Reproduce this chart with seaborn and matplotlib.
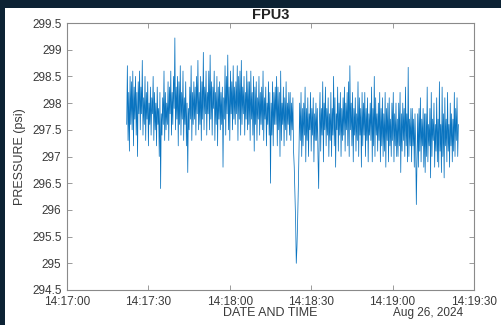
import numpy as np
import pandas as pd
import matplotlib
matplotlib.use("Agg")
import matplotlib.pyplot as plt
import matplotlib.dates as mdates
from matplotlib.patches import Rectangle
import seaborn as sns

# ---- data ----
start_time = "2024-08-26 14:17:22"
step_seconds = 0.25
pressure = [
    297.6, 298.7, 297.3, 298.2, 297.1, 298.5, 297.6, 298.4, 297.5, 298.6, 297.2, 298.3, 297.7, 298.5, 297.4, 298.2, 297.0, 298.4, 297.8, 298.6,
    297.5, 298.3, 297.8, 298.8, 297.4, 298.1, 297.6, 298.5, 297.3, 298.2, 297.7, 298.4, 297.2, 298.0, 297.6, 298.3, 297.4, 298.1, 297.8, 298.5,
    297.3, 298.2, 297.5, 298.0, 297.2, 298.3, 297.6, 297.9, 297.0, 298.2, 296.4, 297.8, 297.4, 298.1, 297.6, 298.6, 297.3, 298.2, 297.5, 298.0,
    297.6, 298.4, 297.3, 298.3, 297.8, 298.6, 297.4, 298.2, 297.6, 298.5, 297.9, 299.22, 297.5, 298.3, 297.7, 298.5, 297.2, 298.4, 297.6, 298.7,
    297.4, 298.2, 297.7, 298.6, 297.3, 298.1, 297.6, 298.4, 297.2, 298.0, 296.7, 297.9, 297.5, 298.3, 297.7, 298.7, 297.3, 298.2, 297.6, 298.4,
    297.7, 298.3, 297.4, 298.5, 297.8, 298.8, 297.5, 298.2, 297.6, 298.5, 297.3, 298.4, 297.7, 298.95, 297.5, 298.3, 297.8, 298.6, 297.4, 298.2,
    297.8, 298.6, 297.5, 298.9, 297.7, 298.4, 297.4, 298.3, 297.9, 298.6, 297.3, 298.2, 297.6, 298.5, 297.2, 298.3, 297.7, 298.4, 297.5, 298.2,
    297.6, 298.3, 296.8, 298.1, 297.7, 298.7, 297.4, 298.5, 297.8, 298.9, 297.5, 298.3, 297.3, 298.6, 297.8, 298.4, 297.5, 298.7, 297.7, 298.3,
    297.6, 298.4, 297.8, 298.7, 297.3, 298.5, 297.7, 298.6, 297.4, 298.8, 297.6, 298.3, 297.8, 298.5, 297.4, 298.2, 297.7, 298.6, 297.5, 298.4,
    297.6, 298.4, 297.3, 298.6, 297.7, 298.2, 297.4, 298.5, 297.1, 298.3, 297.6, 298.4, 297.3, 298.1, 297.7, 298.5, 297.4, 298.2, 297.6, 298.3,
    297.5, 298.6, 297.3, 298.1, 297.7, 298.3, 297.2, 298.0, 297.6, 298.4, 297.4, 298.2, 296.5, 298.0, 297.4, 298.4, 297.2, 298.2, 297.6, 298.3,
    297.6, 298.5, 297.2, 298.3, 297.5, 298.2, 297.0, 298.6, 297.3, 298.0, 297.6, 298.3, 297.2, 298.1, 297.5, 298.4, 297.3, 298.0, 297.6, 298.2,
    297.4, 298.2, 297.3, 298.0, 297.5, 298.1, 297.1, 296.8, 296.3, 295.8, 295.0, 295.3, 295.8, 296.4, 297.1, 298.0, 297.3, 298.2, 297.0, 297.9,
    297.2, 298.0, 297.4, 298.3, 296.9, 297.9, 297.3, 298.1, 297.0, 297.8, 297.5, 298.2, 297.1, 297.9, 297.4, 298.1, 296.9, 297.8, 297.3, 298.0,
    297.3, 297.9, 297.0, 296.4, 297.6, 298.2, 297.1, 297.9, 297.4, 298.4, 296.9, 298.0, 297.5, 298.3, 297.2, 297.9, 297.4, 298.1, 297.0, 297.8,
    297.3, 298.2, 297.0, 297.9, 297.4, 298.5, 297.2, 298.1, 296.8, 297.8, 297.5, 298.3, 297.1, 298.0, 297.4, 298.2, 297.0, 297.9, 297.3, 298.1,
    297.4, 298.3, 297.1, 298.0, 297.5, 298.2, 297.2, 298.4, 297.0, 298.7, 297.5, 298.0, 297.2, 298.2, 296.9, 297.9, 297.4, 298.1, 297.1, 297.8,
    297.3, 298.4, 297.0, 298.1, 297.4, 297.9, 296.8, 298.2, 297.2, 298.0, 297.4, 298.2, 297.0, 297.9, 297.3, 298.1, 296.9, 297.8, 297.4, 298.0,
    297.3, 298.3, 296.9, 297.9, 297.2, 298.5, 297.0, 298.1, 297.4, 297.8, 297.1, 298.0, 297.3, 298.2, 296.9, 297.9, 297.2, 298.1, 297.0, 297.8,
    297.1, 298.2, 296.8, 297.9, 297.3, 298.0, 296.9, 298.1, 297.2, 297.7, 297.0, 298.0, 297.3, 298.2, 296.9, 297.8, 297.2, 298.0, 297.0, 297.7,
    297.0, 298.0, 297.2, 298.2, 296.7, 297.8, 297.1, 298.0, 297.3, 297.9, 297.0, 298.3, 297.2, 297.8, 296.9, 298.67, 297.0, 297.7, 297.2, 297.9,
    296.9, 297.9, 297.2, 297.7, 296.8, 297.8, 297.2, 296.1, 297.0, 297.8, 296.8, 297.9, 297.1, 298.1, 296.9, 297.7, 297.2, 297.9, 296.8, 297.8,
    296.7, 297.8, 297.0, 298.3, 296.9, 297.6, 297.2, 297.9, 296.6, 298.2, 297.0, 297.7, 297.3, 298.0, 296.8, 297.6, 297.1, 298.1, 296.9, 297.7,
    296.8, 298.4, 297.1, 297.6, 296.7, 298.3, 297.0, 297.8, 296.6, 298.1, 297.2, 297.7, 296.9, 298.2, 297.1, 297.6, 296.8, 298.0, 297.2, 297.8,
    296.9, 297.7, 297.1, 298.2, 297.0, 297.9, 297.3, 298.1, 297.0, 297.6,
]
x_ticks = ["14:17:00", "14:17:30", "14:18:00", "14:18:30", "14:19:00", "14:19:30"]
y_ticks = [294.5, 295, 295.5, 296, 296.5, 297, 297.5, 298, 298.5, 299, 299.5]
title = "FPU3"
x_label = "DATE AND TIME"
y_label = "PRESSURE (psi)"
date_label = "Aug 26, 2024"

times = pd.date_range(start=start_time, periods=len(pressure),
                      freq=pd.Timedelta(seconds=step_seconds))
df = pd.DataFrame({"time": times, "pressure": pressure})

# ---- style ----
sns.set_style("ticks")
plt.rcParams["font.family"] = ["Liberation Sans", "DejaVu Sans"]

W, H = 502, 325
fig = plt.figure(figsize=(W / 100, H / 100), dpi=100)
fig.patch.set_facecolor("#0c2234")
bg = Rectangle((5 / W, 0), 1, 1 - 8 / H, transform=fig.transFigure,
               facecolor="white", edgecolor="none", zorder=-10)
fig.patches.append(bg)

ax = fig.add_axes([67 / W, 1 - 290 / H, (474 - 67) / W, (290 - 23) / H])
ax.set_zorder(5)
ax.set_facecolor("white")

sns.lineplot(data=df, x="time", y="pressure", ax=ax, color="#0a74c0",
             linewidth=0.55, estimator=None)

day = "2024-08-26 "
ax.set_xlim(pd.Timestamp(day + x_ticks[0]), pd.Timestamp(day + x_ticks[-1]))
ax.set_xticks([pd.Timestamp(day + t) for t in x_ticks])
ax.xaxis.set_major_formatter(mdates.DateFormatter("%H:%M:%S"))
ax.set_ylim(y_ticks[0], y_ticks[-1])
ax.set_yticks(y_ticks)
ax.set_yticklabels([f"{v:g}" for v in y_ticks])

for s in ax.spines.values():
    s.set_visible(True)
    s.set_color("#8a8a8a")
    s.set_linewidth(0.8)
ax.tick_params(direction="in", length=3.5, width=0.6, color="#8a8a8a",
               labelsize=8.5, labelcolor="#3a3a3a", top=True, right=True,
               labeltop=False, labelright=False)
ax.tick_params(axis="x", pad=4)
ax.tick_params(axis="y", pad=4)

ax.set_xlabel("")
ax.set_ylabel(y_label, fontsize=9, color="#3a3a3a", labelpad=4)
ax.set_title(title, fontsize=10.5, fontweight="bold", color="#222222", pad=3)

fig.text(270 / W, 1 - 313 / H, x_label, ha="center", va="center",
         fontsize=9, color="#3a3a3a")
fig.text(463 / W, 1 - 313 / H, date_label, ha="right", va="center",
         fontsize=8.5, color="#3a3a3a")

fig.savefig("out.png", dpi=100, facecolor=fig.get_facecolor())
